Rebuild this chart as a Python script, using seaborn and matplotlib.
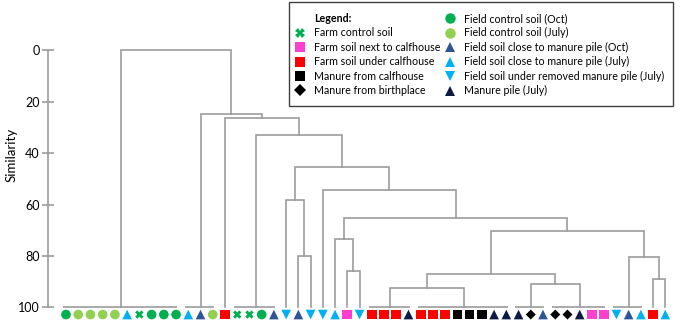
import numpy as np
import pandas as pd
import matplotlib
matplotlib.use("Agg")
import matplotlib.pyplot as plt
from matplotlib.lines import Line2D
from matplotlib.patches import Rectangle
import seaborn as sns

# sample type of each leaf, left to right
leaves = ["FCO", "FCJ", "FCJ", "FCJ", "FCJ", "CPJ", "FARM", "FCO", "FCO", "FCO",
          "CPJ", "CPO", "FCJ", "UNDER", "FARM", "FARM", "FCO", "CPO", "REMJ", "CPO",
          "REMJ", "REMJ", "CPJ", "NEXT", "REMJ", "UNDER", "UNDER", "UNDER", "PILE", "UNDER",
          "UNDER", "UNDER", "MCALF", "MCALF", "MCALF", "PILE", "PILE", "PILE", "MBIRTH", "CPO",
          "MBIRTH", "MBIRTH", "PILE", "NEXT", "NEXT", "REMJ", "CPO", "CPJ", "UNDER", "CPJ"]

# base clusters (first leaf, last leaf), identical at 100 % similarity
base_groups = [(0, 9), (10, 12), (13, 13), (14, 17), (18, 18), (19, 19), (20, 20),
               (21, 21), (22, 22), (23, 23), (24, 24), (25, 28), (29, 36), (37, 39),
               (40, 44), (45, 47), (48, 48), (49, 49)]

# merges: (left id, right id, similarity); new ids continue after base groups
merge_left = [5, 4, 9, 8, 11, 13, 22, 16, 15, 24, 21, 7, 19, 3, 2, 1, 0]
merge_right = [6, 18, 10, 20, 12, 14, 23, 17, 25, 26, 27, 28, 29, 30, 31, 32, 33]
merge_sim = [79.9, 58.2, 85.9, 73.3, 92.4, 91.1, 87.2, 89.0, 80.3, 70.3, 65.1,
             54.5, 45.4, 32.8, 26.5, 24.7, 0.0]

legend_keys = ["FARM", "NEXT", "UNDER", "MCALF", "MBIRTH",
               "FCO", "FCJ", "CPO", "CPJ", "REMJ", "PILE"]
legend_labels = ["Farm control soil", "Farm soil next to calfhouse", "Farm soil under calfhouse",
                 "Manure from calfhouse", "Manure from birthplace",
                 "Field control soil (Oct)", "Field control soil (July)",
                 "Field soil close to manure pile (Oct)", "Field soil close to manure pile (July)",
                 "Field soil under removed manure pile (July)", "Manure pile (July)"]

colors = {"FARM": "#00B050", "NEXT": "#FF3FCF", "UNDER": "#FF0000", "MCALF": "#000000",
          "MBIRTH": "#000000", "FCO": "#00B050", "FCJ": "#92D050", "CPO": "#2F5597",
          "CPJ": "#00B0F0", "REMJ": "#00B0F0", "PILE": "#0C1A44"}
markers = {"FARM": "X", "NEXT": "s", "UNDER": "s", "MCALF": "s", "MBIRTH": "D",
           "FCO": "o", "FCJ": "o", "CPO": "^", "CPJ": "^", "REMJ": "v", "PILE": "^"}
sizes = {k: 48 for k in markers}
sizes["MBIRTH"] = 26
sizes["FARM"] = 36

line_col = "#9c9c9c"
leaf_y = 102.8

fig = plt.figure(figsize=(6.8, 3.22), dpi=100)
ax = fig.add_axes([48 / 680, 0.0056, 632 / 680, 0.846])

# dendrogram lines
node_x = []
node_h = []
for a, b in base_groups:
    node_x.append((a + b) / 2)
    node_h.append(100.0)
    if b > a:
        ax.plot([a - 0.25, b + 0.1], [100, 100], color=line_col, lw=1.2, solid_capstyle="butt")
for l, r, s in zip(merge_left, merge_right, merge_sim):
    xl, xr = node_x[l], node_x[r]
    ax.plot([xl, xl, xr, xr], [node_h[l], s, s, node_h[r]], color=line_col, lw=1.2,
            solid_joinstyle="miter")
    node_x.append((xl + xr) / 2)
    node_h.append(s)

df = pd.DataFrame({"pos": np.arange(len(leaves)), "sim": leaf_y, "group": leaves})
sns.scatterplot(data=df, x="pos", y="sim", hue="group", style="group", size="group",
                palette=colors, markers=markers, sizes=sizes, linewidth=0, legend=False,
                ax=ax, clip_on=False, zorder=3)

ax.set_xlim(-1.47, 50.2)
ax.set_ylim(105, -1)
ax.set_xlabel("")
ax.set_ylabel("Similarity", fontsize=9.5, family="Lato")
ax.yaxis.set_label_coords(-0.048, 0.606)
ax.set_yticks([0, 20, 40, 60, 80, 100])
ax.set_xticks([])
for side in ["top", "right", "bottom"]:
    ax.spines[side].set_visible(False)
ax.spines["left"].set_bounds(0, 100)
ax.spines["left"].set_color(line_col)
ax.spines["left"].set_linewidth(1.2)
ax.tick_params(axis="y", direction="inout", length=8, width=1.2, color=line_col,
               labelsize=9, pad=2)
for t in ax.get_yticklabels():
    t.set_family("Lato")

# legend box
fig.patches.append(Rectangle((289 / 680, 1 - 106 / 322), 384 / 680, 104 / 322,
                             transform=fig.transFigure, facecolor="white",
                             edgecolor="#404040", linewidth=1.0, zorder=4))
handles = [Line2D([], [], linestyle="", marker="")]
labels = ["Legend:"]
for k, lab in zip(legend_keys, legend_labels):
    ms = 6.5 if k == "MBIRTH" else (6.5 if k == "FARM" else 7.5)
    handles.append(Line2D([], [], linestyle="", marker=markers[k], color=colors[k],
                          markersize=ms, markeredgewidth=0))
    labels.append(lab)
leg = fig.legend(handles, labels, ncol=2, loc="upper left",
                 bbox_to_anchor=(295 / 680, 1 - 13 / 322), borderaxespad=0, borderpad=0,
                 frameon=False, prop={"family": "Lato", "size": 7.7},
                 handlelength=1.0, handletextpad=0.8, labelspacing=0.32,
                 columnspacing=0.4)
leg.set_zorder(5)
leg.get_texts()[0].set_fontweight("bold")

fig.savefig("out.png", dpi=100)
